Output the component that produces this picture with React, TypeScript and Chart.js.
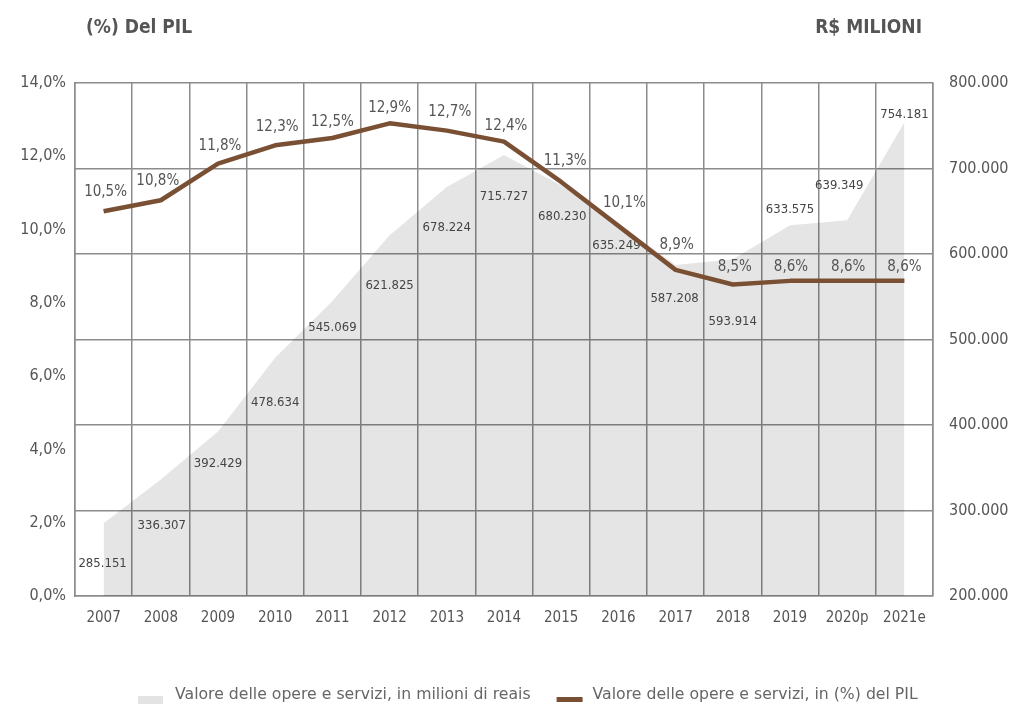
import React, { useEffect, useRef } from "react";
import { Chart, registerables } from "chart.js";

Chart.register(...registerables);

const categories = ["2007", "2008", "2009", "2010", "2011", "2012", "2013", "2014", "2015", "2016", "2017", "2018", "2019", "2020p", "2021e"];
const valueMillions = [285151, 336307, 392429, 478634, 545069, 621825, 678224, 715727, 680230, 635249, 587208, 593914, 633575, 639349, 754181];
const pctOfGdp = [10.5, 10.8, 11.8, 12.3, 12.5, 12.9, 12.7, 12.4, 11.3, 10.1, 8.9, 8.5, 8.6, 8.6, 8.6];

const legendLabels = [
  "Valore delle opere e servizi, in milioni di reais",
  "Valore delle opere e servizi, in (%) del PIL",
];
const leftTitle = "(%) Del PIL";
const rightTitle = "R$ MILIONI";

// label nudges in pixels (style only)
const pctLabelDx = [2, -3, 2, 2, 0, 0, 3, 2, 4, 6, 1, 2, 1, 1, 0];
const pctLabelDy = [-19, -19, -18, -18, -16, -15, -19, -16, -21, -23, -25, -17, -14, -14, -14];
const areaLabelDx = [-1, 1, 0, 0, 0, 0, 0, 0, 1, -2, -1, 0, 0, -8, 0];
const areaLabelDy = [40, 46, 32, 45, 27, 50, 41, 42, 31, 22, 34, 62, -16, -35, -8];

const COND = '"DejaVu Sans Condensed", "Liberation Sans Narrow", "DejaVu Sans", sans-serif';
const GRID = "#8c8c8c";
const TEXT = "#555555";
const BROWN = "#7a5035";

const fmtPct = (v: number) => v.toFixed(1).replace(".", ",") + "%";
const fmtThousands = (v: number) => String(Math.round(v)).replace(/\B(?=(\d{3})+(?!\d))/g, ".");

const labelPlugin = {
  id: "customLabels",
  afterDatasetDraw(chart: any, args: any) {
    const ctx = chart.ctx;
    const meta = args.meta;
    ctx.save();
    ctx.textAlign = "center";
    ctx.textBaseline = "middle";
    if (args.index === 0) {
      ctx.font = `13px ${COND}`;
      ctx.fillStyle = "#444444";
      meta.data.forEach((pt: any, i: number) => {
        ctx.fillText(fmtThousands(valueMillions[i]), pt.x + areaLabelDx[i], pt.y + areaLabelDy[i]);
      });
    } else if (args.index === 1) {
      ctx.font = `15px ${COND}`;
      ctx.fillStyle = TEXT;
      meta.data.forEach((pt: any, i: number) => {
        ctx.fillText(fmtPct(pctOfGdp[i]), pt.x + pctLabelDx[i], pt.y + pctLabelDy[i]);
      });
    }
    ctx.restore();
  },
  afterDraw(chart: any) {
    const ctx = chart.ctx;
    const area = chart.chartArea;
    ctx.save();
    // titles
    ctx.fillStyle = TEXT;
    ctx.font = `bold 19px ${COND}`;
    ctx.textBaseline = "middle";
    ctx.textAlign = "left";
    ctx.fillText(leftTitle, area.left + 11, 28);
    ctx.textAlign = "right";
    ctx.fillText(rightTitle, area.right - 11, 28);

    // legend
    ctx.font = `15.7px "DejaVu Sans", sans-serif`;
    ctx.textAlign = "left";
    const y = 695;
    let x = 138;
    ctx.fillStyle = "#e3e3e3";
    ctx.fillRect(x, y + 1, 25, 8);
    x += 37;
    ctx.fillStyle = "#666666";
    ctx.fillText(legendLabels[0], x, y);
    x += ctx.measureText(legendLabels[0]).width + 26;
    ctx.fillStyle = BROWN;
    ctx.fillRect(x, y + 2, 26, 5);
    x += 36;
    ctx.fillStyle = "#666666";
    ctx.fillText(legendLabels[1], x, y);
    ctx.restore();
  },
};

export default function App() {
  const ref = useRef<HTMLCanvasElement | null>(null);

  useEffect(() => {
    if (!ref.current) return;
    const chart = new Chart(ref.current, {
      type: "line",
      data: {
        labels: categories,
        datasets: [
          {
            label: legendLabels[0],
            data: valueMillions,
            yAxisID: "yR",
            fill: "start",
            backgroundColor: "rgba(0,0,0,0.1)",
            borderWidth: 0,
            pointRadius: 0,
            tension: 0,
            order: 2,
          },
          {
            label: legendLabels[1],
            data: pctOfGdp,
            yAxisID: "yL",
            fill: false,
            borderColor: BROWN,
            borderWidth: 4.5,
            borderJoinStyle: "round",
            borderCapStyle: "butt",
            pointRadius: 0,
            tension: 0,
            order: 1,
          },
        ],
      },
      options: {
        responsive: false,
        animation: false,
        layout: { padding: { top: 83, left: 0, right: 0, bottom: 0 } },
        plugins: { legend: { display: false }, tooltip: { enabled: false }, title: { display: false } },
        scales: {
          x: {
            type: "category",
            offset: true,
            grid: { display: true, offset: true, color: GRID, lineWidth: 1.5, drawTicks: false },
            border: { display: true, color: GRID, width: 1.5 },
            ticks: { color: TEXT, font: { family: COND, size: 15 }, padding: 13, maxRotation: 0, autoSkip: false },
            afterFit: (s: any) => { s.height = 108; },
          },
          yL: {
            position: "left",
            min: 0,
            max: 14,
            grid: { display: false, drawTicks: false },
            border: { display: true, color: GRID, width: 1.5 },
            ticks: { stepSize: 2, color: TEXT, font: { family: COND, size: 16 }, padding: 9, callback: (v: any) => fmtPct(Number(v)) },
            afterFit: (s: any) => { s.width = 75; },
          },
          yR: {
            position: "right",
            min: 200000,
            max: 800000,
            grid: { display: true, color: GRID, lineWidth: 1.5, drawTicks: false },
            border: { display: true, color: GRID, width: 1.5 },
            ticks: { stepSize: 100000, color: TEXT, font: { family: COND, size: 16 }, padding: 16, callback: (v: any) => fmtThousands(Number(v)) },
            afterFit: (s: any) => { s.width = 83; },
          },
        },
      },
      plugins: [labelPlugin],
    } as any);
    return () => chart.destroy();
  }, []);

  return (
    <div style={{ position: "absolute", left: 0, top: 0, width: 1016, height: 704, background: "#ffffff" }}>
      <canvas ref={ref} width={1016} height={704} />
    </div>
  );
}
